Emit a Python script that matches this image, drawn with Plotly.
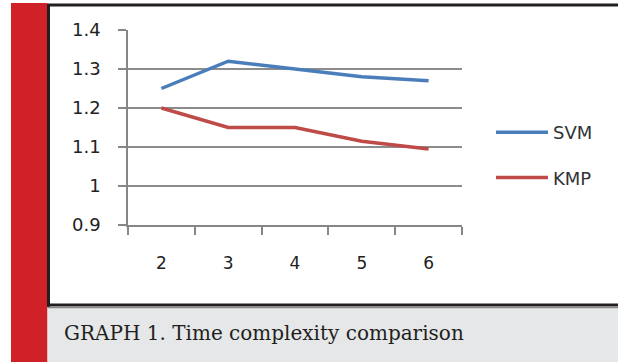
import plotly.graph_objects as go

categories = ["2", "3", "4", "5", "6"]
svm = [1.25, 1.32, 1.30, 1.28, 1.27]
kmp = [1.20, 1.15, 1.15, 1.115, 1.095]
y_ticks = [0.9, 1.0, 1.1, 1.2, 1.3, 1.4]
y_ticktext = ["0.9", "1", "1.1", "1.2", "1.3", "1.4"]
caption = "GRAPH 1. Time complexity comparison"

W, H = 618, 362
L, R, T, B = 128, 462, 30, 225

def px(x):
    return (x - L) / (R - L)

def py(y):
    return (B - y) / (B - T)

fig = go.Figure()
fig.add_trace(go.Scatter(x=categories, y=svm, mode="lines", name="SVM", legendgroup="a",
                         line=dict(color="#4A7EBB", width=3.5)))
fig.add_trace(go.Scatter(x=categories, y=kmp, mode="lines", name="KMP", legendgroup="b",
                         line=dict(color="#BE4B48", width=3.5)))

shapes = [
    dict(type="rect", xref="paper", yref="paper", x0=px(11), x1=px(47.5), y0=py(3), y1=py(362),
         fillcolor="#D02028", line=dict(width=0), layer="below"),
    dict(type="rect", xref="paper", yref="paper", x0=px(47.5), x1=px(618), y0=py(307), y1=py(362),
         fillcolor="#E6E7E8", line=dict(width=0), layer="below"),
    dict(type="line", xref="paper", yref="paper", x0=px(48.5), x1=px(48.5), y0=py(4), y1=py(307),
         line=dict(color="#231F20", width=3)),
    dict(type="line", xref="paper", yref="paper", x0=px(47.5), x1=px(618), y0=py(5), y1=py(5),
         line=dict(color="#231F20", width=3)),
    dict(type="line", xref="paper", yref="paper", x0=px(47.5), x1=px(618), y0=py(305), y1=py(305),
         line=dict(color="#231F20", width=3)),
    dict(type="line", xref="paper", yref="paper", x0=px(47.5), x1=px(618), y0=py(307.5), y1=py(307.5),
         line=dict(color="#8A8A8A", width=1.5)),
]

fig.update_layout(
    width=W, height=H,
    margin=dict(l=L, r=W - R, t=T, b=H - B, pad=0),
    paper_bgcolor="white", plot_bgcolor="white",
    showlegend=True,
    legend=dict(x=px(491), y=py(114), xanchor="left", yanchor="top",
                font=dict(family="DejaVu Sans", size=18, color="#333333"),
                tracegroupgap=19, itemwidth=52, bgcolor="rgba(0,0,0,0)",
                traceorder="grouped"),
    shapes=shapes,
    annotations=[dict(text=caption, xref="paper", yref="paper", x=px(62), y=py(333),
                      xanchor="left", yanchor="middle", showarrow=False,
                      font=dict(family="DejaVu Serif", size=20, color="#231F20"))],
    xaxis=dict(type="category", range=[-0.5, 4.5], tickson="boundaries",
               ticks="outside", ticklen=8, tickcolor="#868686", tickwidth=1.5,
               showline=True, linecolor="#868686", linewidth=1.5, showgrid=False,
               ticklabelstandoff=22, zeroline=False,
               tickfont=dict(family="DejaVu Sans", size=17, color="#222222")),
    yaxis=dict(range=[0.9, 1.4], tickvals=y_ticks, ticktext=y_ticktext,
               ticks="outside", ticklen=8, tickcolor="#868686", tickwidth=1.5,
               showline=True, linecolor="#868686", linewidth=1.5,
               showgrid=True, gridcolor="#8C8C8C", gridwidth=1.5, zeroline=False,
               ticklabelstandoff=14,
               tickfont=dict(family="DejaVu Sans", size=18, color="#222222")),
)

fig.write_html("out.html")
